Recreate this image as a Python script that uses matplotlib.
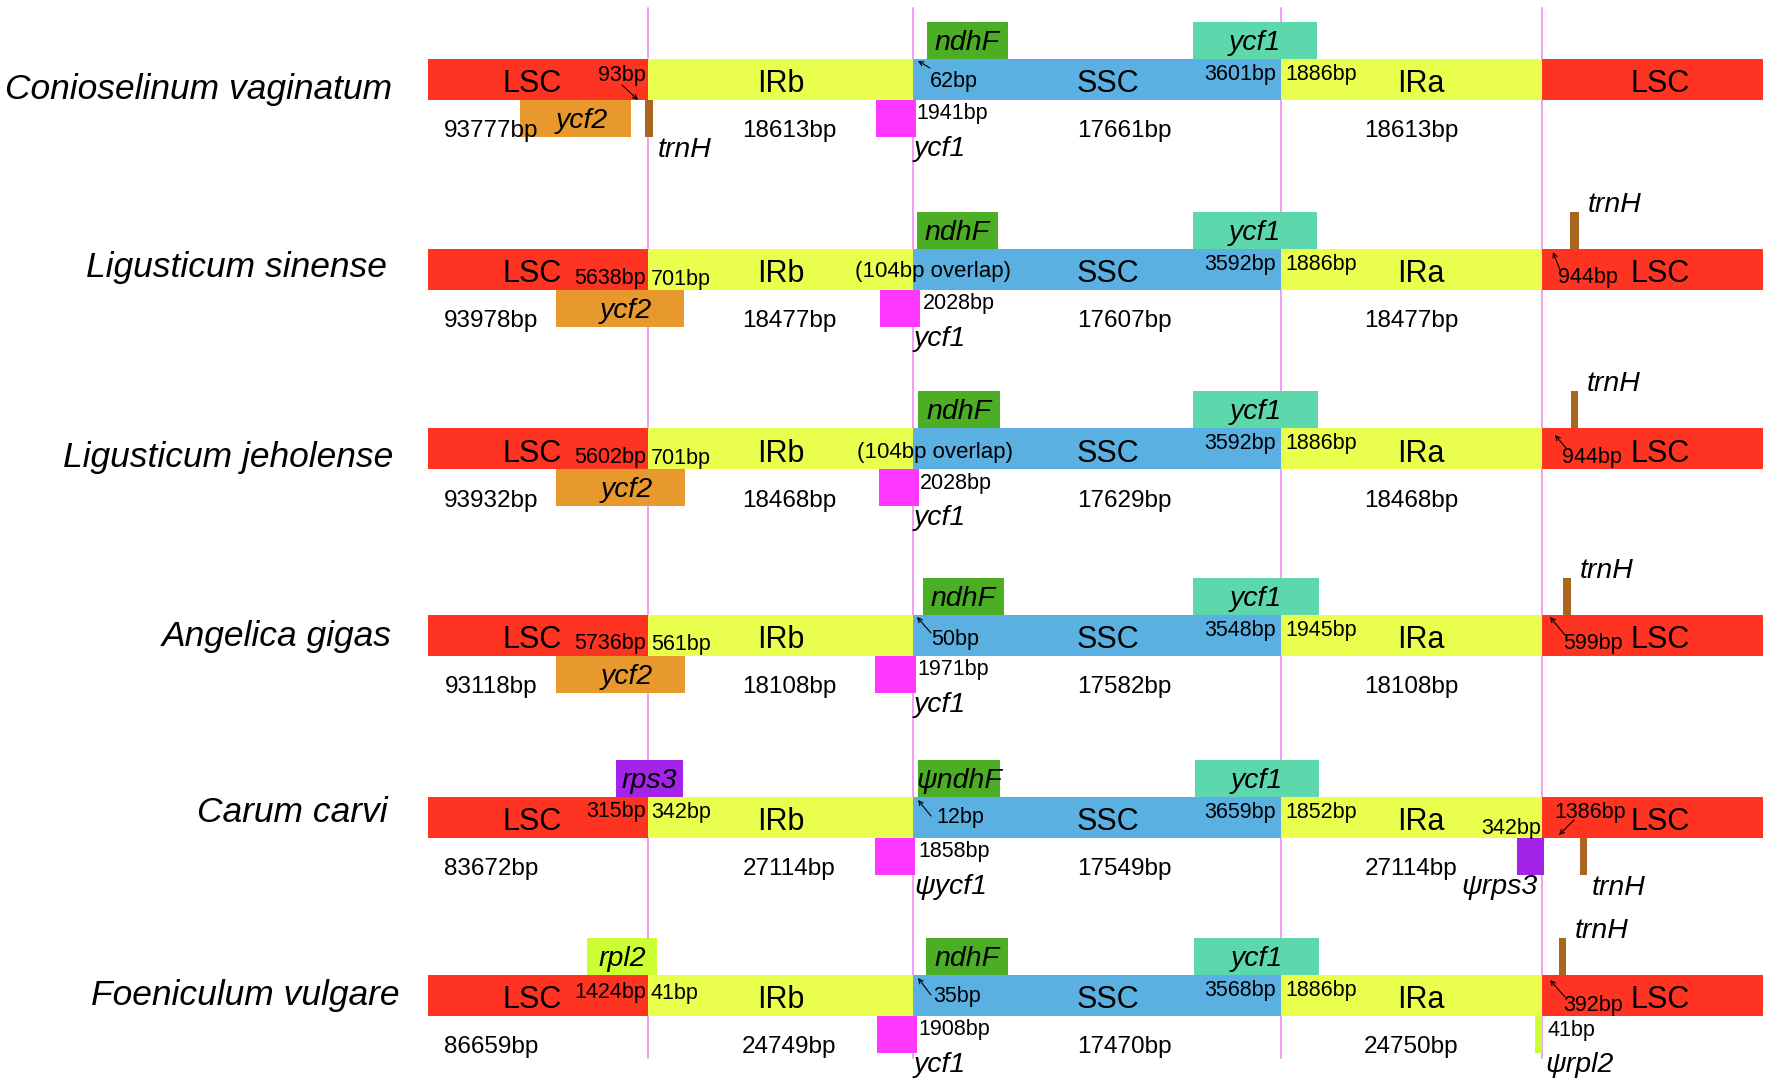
import matplotlib
matplotlib.use("Agg")
import matplotlib.pyplot as plt

plt.rcParams['font.family'] = ['Liberation Sans', 'DejaVu Sans']

# ---------------- data ----------------
species = ["Conioselinum vaginatum", "Ligusticum sinense", "Ligusticum jeholense",
           "Angelica gigas", "Carum carvi", "Foeniculum vulgare"]
lsc_len = [93777, 93978, 93932, 93118, 83672, 86659]
irb_len = [18613, 18477, 18468, 18108, 27114, 24749]
ssc_len = [17661, 17607, 17629, 17582, 17549, 17470]
ira_len = [18613, 18477, 18468, 18108, 27114, 24750]

jlb_gene = ["ycf2", "ycf2", "ycf2", "ycf2", "rps3", "rpl2"]
jlb_left = ["93bp", "5638bp", "5602bp", "5736bp", "315bp", "1424bp"]
jlb_right = [None, "701bp", "701bp", "561bp", "342bp", "41bp"]
ndhf_name = ["ndhF", "ndhF", "ndhF", "ndhF", "ψndhF", "ndhF"]
jsb_label = ["62bp", "(104bp overlap)", "(104bp overlap)", "50bp", "12bp", "35bp"]
ycf1_ir_name = ["ycf1", "ycf1", "ycf1", "ycf1", "ψycf1", "ycf1"]
ycf1_ir_len = ["1941bp", "2028bp", "2028bp", "1971bp", "1858bp", "1908bp"]
jsa_ssc = ["3601bp", "3592bp", "3592bp", "3548bp", "3659bp", "3568bp"]
jsa_ira = ["1886bp", "1886bp", "1886bp", "1945bp", "1852bp", "1886bp"]
jla_label = [None, "944bp", "944bp", "599bp", "1386bp", "392bp"]
ira_extra_gene = [None, None, None, None, "ψrps3", "ψrpl2"]
ira_extra_len = [None, None, None, None, "342bp", "41bp"]
region_names = ["LSC", "IRb", "SSC", "IRa", "LSC"]

# ---------------- layout (schematic, pixel space) ----------------
W, H = 1772, 1085
BOUND = [428, 648, 913, 1281, 1542, 1763]
BAR_H = 41
GENE_H = 37
row_top = [59, 249, 428, 615, 797, 975]
name_right = [392, 387, 393, 392, 388, 400]
name_base = [40, 28, 39, 31, 25, 30]
region_cx = [532, 781, 1108, 1421, 1660]

jlb_box = [(520, 631), (556, 684), (556, 685), (556, 685), (616, 683), (587, 657)]
jlb_above = [False, False, False, False, True, True]
jlb_lab_base = [22, 35, 35, 34, 20, 23]
ndhf_box = [(927, 1008), (917, 998), (918, 1000), (923, 1004), (918, 1000), (926, 1008)]
ycf1_top_box = [(1193, 1317), (1193, 1317), (1193, 1318), (1193, 1319), (1195, 1319), (1194, 1319)]
ycf1_ir_box = [(876, 916), (880, 920), (879, 919), (875, 916), (875, 915), (877, 917)]
ycf1_len_x = [916, 923, 920, 917, 918, 918]
jsb_x = [930, 933, 935, 931, 936, 933]
jsb_base = [28, 28, 30, 30, 26, 27]
jla_x = [None, 1558, 1562, 1563, 1554, 1563]
jla_base = [None, 34, 35, 34, 21, 36]
# trnH: (x0, x1, above?)
trnh_box = [(645, 653, False), (1570, 1579, True), (1571, 1578, True),
            (1563, 1571, True), (1580, 1587, False), (1559, 1566, True)]
extra_box = [None, None, None, None, (1517, 1544), (1535, 1542)]
# arrows: (x_from, dy_from, x_to, dy_to)
jlb_arrow = [(622, 26, 638, 41), None, None, None, None, None]
jsb_arrow = [(930, 9, 918, 2), None, None, (931, 18, 917, 2), (931, 19, 918, 3), (931, 20, 918, 3)]
jla_arrow = [None, (1560, 21, 1553, 3), (1566, 20, 1555, 7), (1565, 20, 1550, 2),
             (1574, 23, 1559, 38), (1565, 22, 1550, 5)]

C_LSC, C_IR, C_SSC = '#FF3322', '#EAFF4D', '#5BB0E2'
C_NDHF, C_YCF1T, C_YCF1B = '#4BAE24', '#5CD8AC', '#FF38FF'
C_YCF2, C_TRNH, C_RPS3, C_RPL2 = '#E8992E', '#A8661E', '#A324E8', '#CCFF33'
C_VLINE = '#EE82EE'
region_colors = [C_LSC, C_IR, C_SSC, C_IR, C_LSC]
gene_colors = {"ycf2": C_YCF2, "rps3": C_RPS3, "rpl2": C_RPL2,
               "ψrps3": C_RPS3, "ψrpl2": C_RPL2}

FS_NAME, FS_REG, FS_LEN, FS_BP, FS_GENE = 25.5, 22, 17.5, 15.5, 20.5

fig = plt.figure(figsize=(W / 100, H / 100), dpi=100)
ax = fig.add_axes([0, 0, 1, 1])
ax.set_xlim(0, W)
ax.set_ylim(H, 0)
ax.axis('off')


def box(x0, x1, y0, y1, color, z=3):
    ax.barh((y0 + y1) / 2, x1 - x0, left=x0, height=y1 - y0, color=color,
            linewidth=0, zorder=z)


def txt(x, y, s, fs, ha='left', italic=False, va='baseline'):
    ax.text(x, y, s, fontsize=fs, ha=ha, va=va, color='black',
            style='italic' if italic else 'normal', zorder=6)


def arrow(spec, t):
    if spec is None:
        return
    xf, df, xt, dt = spec
    ax.annotate('', xy=(xt, t + dt), xytext=(xf, t + df),
                arrowprops=dict(arrowstyle='->', color='black', lw=0.8,
                                mutation_scale=8, shrinkA=0, shrinkB=0),
                zorder=7)


# vertical boundary lines
for xb in BOUND[1:5]:
    ax.plot([xb, xb], [8, 1058], color=C_VLINE, lw=1.1, zorder=1)

for i, t in enumerate(row_top):
    b = t + BAR_H
    # species name
    txt(name_right[i], t + name_base[i], species[i], FS_NAME, ha='right', italic=True)
    # region bars
    for k in range(5):
        box(BOUND[k], BOUND[k + 1], t, b, region_colors[k], z=2)
        txt(region_cx[k], t + 33.5, region_names[k], FS_REG, ha='center')
    # lengths below
    for xc, val in zip([491, 789, 1124, 1411], [lsc_len[i], irb_len[i], ssc_len[i], ira_len[i]]):
        txt(xc, t + 78.5, f"{val}bp", FS_LEN, ha='center')

    # JLB gene
    x0, x1 = jlb_box[i]
    if jlb_above[i]:
        box(x0, x1, t - GENE_H, t, gene_colors[jlb_gene[i]])
        txt((x0 + x1) / 2, t - 9, jlb_gene[i], FS_GENE, ha='center', italic=True)
    else:
        box(x0, x1, b, b + GENE_H, gene_colors[jlb_gene[i]])
        txt((x0 + x1) / 2 + 6, b + GENE_H - 9, jlb_gene[i], FS_GENE, ha='center', italic=True)
    txt(646, t + jlb_lab_base[i], jlb_left[i], FS_BP, ha='right')
    if jlb_right[i]:
        txt(651, t + jlb_lab_base[i] + 1, jlb_right[i], FS_BP, ha='left')
    arrow(jlb_arrow[i], t)

    # ndhF above
    x0, x1 = ndhf_box[i]
    box(x0, x1, t - GENE_H, t, C_NDHF)
    txt((x0 + x1) / 2, t - 9, ndhf_name[i], FS_GENE, ha='center', italic=True)
    if jsb_label[i].startswith('('):
        txt(jsb_x[i], t + jsb_base[i], jsb_label[i], 16, ha='center')
    else:
        txt(jsb_x[i], t + jsb_base[i], jsb_label[i], FS_BP, ha='left')
    arrow(jsb_arrow[i], t)

    # ycf1 fragment in IRb
    x0, x1 = ycf1_ir_box[i]
    box(x0, x1, b, b + GENE_H, C_YCF1B)
    txt(ycf1_len_x[i], t + 60.5, ycf1_ir_len[i], FS_BP, ha='left')
    txt(914, t + 97, ycf1_ir_name[i], FS_GENE, ha='left', italic=True)

    # ycf1 at JSA
    x0, x1 = ycf1_top_box[i]
    box(x0, x1, t - GENE_H, t, C_YCF1T)
    txt((x0 + x1) / 2, t - 9, "ycf1", FS_GENE, ha='center', italic=True)
    txt(1276, t + 21, jsa_ssc[i], FS_BP, ha='right')
    txt(1285, t + 21, jsa_ira[i], FS_BP, ha='left')

    # JLA
    if jla_label[i]:
        txt(jla_x[i], t + jla_base[i], jla_label[i], FS_BP, ha='left')
        arrow(jla_arrow[i], t)

    # trnH
    x0, x1, above = trnh_box[i]
    if above:
        box(x0, x1, t - GENE_H, t, C_TRNH)
        txt(x1 + 9, t - 37, "trnH", FS_GENE, ha='left', italic=True)
    else:
        box(x0, x1, b, b + GENE_H, C_TRNH)
        txt(x1 + 5, t + 98, "trnH", FS_GENE, ha='left', italic=True)

    # extra gene at IRa/LSC
    if extra_box[i]:
        x0, x1 = extra_box[i]
        box(x0, x1, b, b + GENE_H, gene_colors[ira_extra_gene[i]])
        if ira_extra_gene[i] == "ψrps3":
            txt(1541, t + 37, ira_extra_len[i], FS_BP, ha='right')
            txt(1538, t + 97, ira_extra_gene[i], FS_GENE, ha='right', italic=True)
        else:
            txt(1548, t + 61, ira_extra_len[i], FS_BP, ha='left')
            txt(1545, t + 97, ira_extra_gene[i], FS_GENE, ha='left', italic=True)

fig.savefig("out.png", dpi=100)
